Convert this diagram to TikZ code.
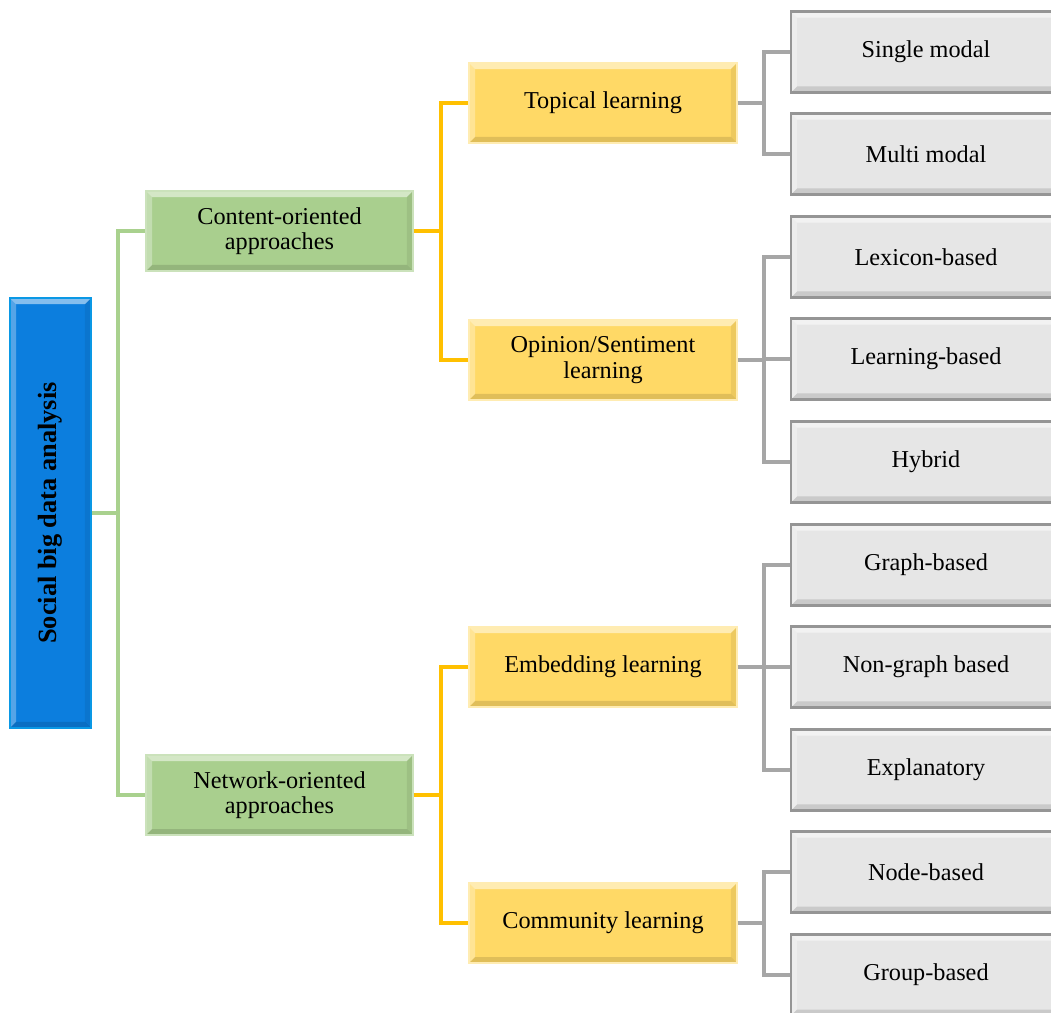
\documentclass[tikz,border=0pt]{standalone}
\usepackage{fontspec}
\setmainfont{Liberation Serif}
\usepackage{xcolor}
\usepackage{tikz}
\definecolor{rootblue}{RGB}{12,126,222}
\definecolor{maingreen}{RGB}{169,207,142}
\definecolor{subyellow}{RGB}{255,217,102}
\definecolor{leafgray}{RGB}{230,230,230}
\definecolor{greenline}{RGB}{169,209,142}
\definecolor{orangeline}{RGB}{255,192,0}
\definecolor{grayline}{RGB}{166,166,166}
\tikzset{
  Bevel/.style={path picture={% abgeschraegter Rand
    \path (path picture bounding box.north west) coordinate (nw)
          (path picture bounding box.south east) coordinate (se);
    \fill[white,opacity=.5] (nw) -- (nw -| se) -- ([shift={(-.12cm,-.12cm)}]nw -| se) -- ([shift={(.12cm,-.12cm)}]nw) -- cycle;
    \fill[white,opacity=.3] (nw) -- (nw |- se) -- ([shift={(.12cm,.12cm)}]nw |- se) -- ([shift={(.12cm,-.12cm)}]nw) -- cycle;
    \fill[black,opacity=.12] (nw |- se) -- (se) -- ([shift={(-.12cm,.12cm)}]se) -- ([shift={(.12cm,.12cm)}]nw |- se) -- cycle;
    \fill[black,opacity=.07] (nw -| se) -- (se) -- ([shift={(-.12cm,.12cm)}]se) -- ([shift={(-.12cm,-.12cm)}]nw -| se) -- cycle;
  }},
  Box/.style={draw,Bevel,align=center,inner sep=2pt,
    font=\fontsize{13.8}{14.5}\selectfont}, % Grundform
  RootBox/.style={Box,fill=rootblue,draw=rootblue!80!cyan,line width=.8pt,
    minimum width=1.62cm,minimum height=8.6cm},
  MainBox/.style={Box,fill=maingreen,draw=maingreen!60!white,line width=.8pt,
    minimum width=5.34cm,minimum height=1.6cm},
  SubBox/.style={Box,fill=subyellow,draw=subyellow!50!white,line width=.8pt,
    minimum width=5.36cm,minimum height=1.6cm},
  LeafBox/.style={Box,fill=leafgray,draw=grayline!90!black,line width=1.6pt,
    minimum width=5.4cm,minimum height=1.62cm},
  Link/.style={line width=1.8pt} % Verbindungslinien
}

\begin{document}
\begin{tikzpicture}[x=0.02cm,y=-0.02cm]
\useasboundingbox (0,0) rectangle (1051,1013);
\clip (0,0) rectangle (1051,1013);

%Knoten
\node[RootBox,label={[rotate=90,font=\fontsize{15}{17}\selectfont\bfseries]center:Social big data analysis}] (root) at (50.5,513) {};

\node[MainBox] (content) at (279.5,231) {Content-oriented\\approaches};
\node[MainBox] (network) at (279.5,795) {Network-oriented\\approaches};

\node[SubBox] (topical)   at (603,103) {Topical learning};
\node[SubBox] (opinion)   at (603,360) {Opinion/Sentiment\\learning};
\node[SubBox] (embedding) at (603,667) {Embedding learning};
\node[SubBox] (community) at (603,923) {Community learning};

\node[LeafBox] (single)   at (926,52)  {Single modal};
\node[LeafBox] (multi)    at (926,154) {Multi modal};
\node[LeafBox] (lexicon)  at (926,257) {Lexicon-based};
\node[LeafBox] (learning) at (926,359) {Learning-based};
\node[LeafBox] (hybrid)   at (926,462) {Hybrid};
\node[LeafBox] (graph)    at (926,565) {Graph-based};
\node[LeafBox] (nongraph) at (926,667) {Non-graph based};
\node[LeafBox] (explan)   at (926,770) {Explanatory};
\node[LeafBox] (nodeb)    at (926,872) {Node-based};
\node[LeafBox] (group)    at (926,975) {Group-based};

%Knickpunkte
\coordinate (jg) at (118,0);
\coordinate (jo) at (441,0);
\coordinate (jy) at (764,0);

%Leiterbahnen
\draw[Link,greenline] (root.east) -- (root.east -| jg) |- (content.west);
\draw[Link,greenline] (root.east -| jg) |- (network.west);

\draw[Link,orangeline] (content.east) -- (content.east -| jo) |- (topical.west);
\draw[Link,orangeline] (content.east -| jo) |- (opinion.west);
\draw[Link,orangeline] (network.east) -- (network.east -| jo) |- (embedding.west);
\draw[Link,orangeline] (network.east -| jo) |- (community.west);

\draw[Link,grayline] (topical.east) -- (topical.east -| jy) |- (single.west);
\draw[Link,grayline] (topical.east -| jy) |- (multi.west);
\draw[Link,grayline] (opinion.east) -- (opinion.east -| jy) |- (lexicon.west);
\draw[Link,grayline] (opinion.east -| jy) |- (learning.west);
\draw[Link,grayline] (opinion.east -| jy) |- (hybrid.west);
\draw[Link,grayline] (embedding.east) -- (embedding.east -| jy) |- (graph.west);
\draw[Link,grayline] (embedding.east -| jy) |- (nongraph.west);
\draw[Link,grayline] (embedding.east -| jy) |- (explan.west);
\draw[Link,grayline] (community.east) -- (community.east -| jy) |- (nodeb.west);
\draw[Link,grayline] (community.east -| jy) |- (group.west);

\end{tikzpicture}
\end{document}
